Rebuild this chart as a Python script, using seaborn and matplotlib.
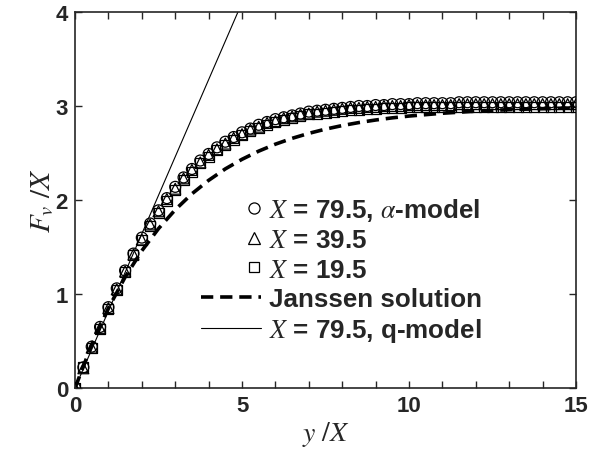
import matplotlib
import matplotlib.pyplot as plt
import pandas as pd
import seaborn as sns
from matplotlib.legend_handler import HandlerLine2D
from matplotlib.lines import Line2D
from matplotlib.ticker import MultipleLocator

matplotlib.use("Agg")

# depth y/X shared by the three alpha-model runs
y_over_x = [
    0.00, 0.25, 0.50, 0.75, 1.00, 1.25, 1.50, 1.75, 2.00, 2.25,
    2.50, 2.75, 3.00, 3.25, 3.50, 3.75, 4.00, 4.25, 4.50, 4.75,
    5.00, 5.25, 5.50, 5.75, 6.00, 6.25, 6.50, 6.75, 7.00, 7.25,
    7.50, 7.75, 8.00, 8.25, 8.50, 8.75, 9.00, 9.25, 9.50, 9.75,
    10.00, 10.25, 10.50, 10.75, 11.00, 11.25, 11.50, 11.75, 12.00, 12.25,
    12.50, 12.75, 13.00, 13.25, 13.50, 13.75, 14.00, 14.25, 14.50, 14.75, 15.00,
]
fv_x795 = [
    0.00, 0.22, 0.44, 0.65, 0.86, 1.06, 1.25, 1.43, 1.60, 1.75,
    1.89, 2.02, 2.14, 2.24, 2.33, 2.42, 2.49, 2.56, 2.62, 2.67,
    2.72, 2.76, 2.80, 2.83, 2.86, 2.88, 2.90, 2.92, 2.94, 2.95,
    2.96, 2.97, 2.98, 2.99, 3.00, 3.00, 3.01, 3.01, 3.02, 3.02,
    3.02, 3.03, 3.03, 3.03, 3.03, 3.03, 3.04, 3.04, 3.04, 3.04,
    3.04, 3.04, 3.04, 3.04, 3.04, 3.04, 3.04, 3.04, 3.04, 3.04, 3.04,
]
fv_x395 = [
    0.00, 0.21, 0.43, 0.64, 0.85, 1.05, 1.24, 1.42, 1.58, 1.74,
    1.88, 2.01, 2.12, 2.23, 2.32, 2.40, 2.48, 2.54, 2.60, 2.66,
    2.70, 2.75, 2.78, 2.82, 2.84, 2.87, 2.89, 2.91, 2.92, 2.94,
    2.95, 2.96, 2.97, 2.98, 2.98, 2.99, 2.99, 3.00, 3.00, 3.00,
    3.01, 3.01, 3.01, 3.01, 3.01, 3.01, 3.02, 3.02, 3.02, 3.02,
    3.02, 3.02, 3.02, 3.02, 3.02, 3.02, 3.02, 3.02, 3.02, 3.02, 3.02,
]
fv_x195 = [
    0.00, 0.22, 0.43, 0.63, 0.84, 1.04, 1.23, 1.41, 1.57, 1.72,
    1.86, 1.99, 2.11, 2.21, 2.30, 2.39, 2.46, 2.53, 2.59, 2.64,
    2.69, 2.73, 2.77, 2.80, 2.83, 2.85, 2.87, 2.89, 2.91, 2.92,
    2.93, 2.94, 2.95, 2.96, 2.96, 2.97, 2.97, 2.98, 2.98, 2.98,
    2.99, 2.99, 2.99, 2.99, 2.99, 2.99, 2.99, 2.99, 2.99, 2.99,
    2.99, 2.99, 2.99, 2.99, 2.99, 2.99, 2.99, 2.99, 2.99, 2.99, 2.99,
]

janssen_y = [0.0, 0.5, 1.0, 1.5, 2.0, 2.5, 3.0, 3.5, 4.0, 4.5, 5.0, 5.5, 6.0, 6.5,
             7.0, 7.5, 8.0, 8.5, 9.0, 9.5, 10.0, 11.0, 12.0, 13.0, 14.0, 15.0]
janssen_fv = [0.000, 0.461, 0.850, 1.180, 1.460, 1.696, 1.896, 2.066, 2.209, 2.331,
              2.433, 2.520, 2.594, 2.656, 2.709, 2.754, 2.792, 2.824, 2.851, 2.874,
              2.893, 2.923, 2.945, 2.961, 2.972, 2.980]

qmodel_y = [0.0, 6.0]
qmodel_fv = [0.0, 4.92]

labels = [
    r"$X$ = 79.5, $\alpha$-model",
    r"$X$ = 39.5",
    r"$X$ = 19.5",
    "Janssen solution",
    r"$X$ = 79.5, q-model",
]


class RightMarker(HandlerLine2D):
    # single legend marker sits at the right end of the handle
    def get_xdata(self, legend, xdescent, ydescent, width, height, fontsize):
        right = -xdescent + width - 5
        return [right - 2, right + 2], [right]


sns.set_style("ticks")
plt.rcParams["font.family"] = ["Liberation Sans", "DejaVu Sans"]
plt.rcParams["mathtext.fontset"] = "stix"

fig = plt.figure(figsize=(6.06, 4.56), dpi=100)
ax = fig.add_axes([0.1238, 0.1469, 0.8267, 0.8246])

alpha_df = pd.DataFrame({"y": y_over_x, "c": fv_x795, "t": fv_x395, "s": fv_x195})
marker_kw = dict(color="none", edgecolor="black", linewidth=0.9, legend=False, zorder=3)
sns.scatterplot(data=alpha_df, x="y", y="c", marker="o", s=62, ax=ax, **marker_kw)
sns.scatterplot(data=alpha_df, x="y", y="t", marker="^", s=62, ax=ax, **marker_kw)
sns.scatterplot(data=alpha_df, x="y", y="s", marker="s", s=52, ax=ax, **marker_kw)

sns.lineplot(x=janssen_y, y=janssen_fv, color="black", linewidth=2.6,
             linestyle=(0, (3.4, 1.9)), ax=ax, zorder=2)
sns.lineplot(x=qmodel_y, y=qmodel_fv, color="black", linewidth=0.8, ax=ax, zorder=2)

ax.set_xlim(0, 15)
ax.set_ylim(0, 4)
ax.xaxis.set_major_locator(MultipleLocator(5))
ax.xaxis.set_minor_locator(MultipleLocator(1))
ax.yaxis.set_major_locator(MultipleLocator(1))
ax.tick_params(which="both", direction="in", top=True, right=True, length=5,
               width=1.0, labelsize=16, pad=5)
for lab in ax.get_xticklabels() + ax.get_yticklabels():
    lab.set_fontweight("bold")
for sp in ax.spines.values():
    sp.set_linewidth(1.2)
    sp.set_visible(True)

ax.set_xlabel(r"$y\ /X$", fontsize=20, labelpad=2)
ax.set_ylabel(r"$F_v\ /X$", fontsize=21, labelpad=0)

mk = dict(linestyle="none", markerfacecolor="none", markeredgecolor="black",
          markeredgewidth=0.9)
handles = [
    Line2D([], [], marker="o", markersize=8, **mk),
    Line2D([], [], marker="^", markersize=8, **mk),
    Line2D([], [], marker="s", markersize=7, **mk),
    Line2D([], [], color="black", linewidth=2.6, linestyle=(0, (3.4, 1.9))),
    Line2D([], [], color="black", linewidth=0.8),
]
leg = ax.legend(handles, labels, loc="lower left", bbox_to_anchor=(0.205, 0.055),
                frameon=False, handlelength=2.3, handletextpad=0.3,
                labelspacing=0.2, numpoints=1, borderpad=0.4,
                prop={"size": 18.7, "weight": "bold"},
                handler_map={h: RightMarker() for h in handles[:3]})

fig.savefig("out.png", dpi=100)
